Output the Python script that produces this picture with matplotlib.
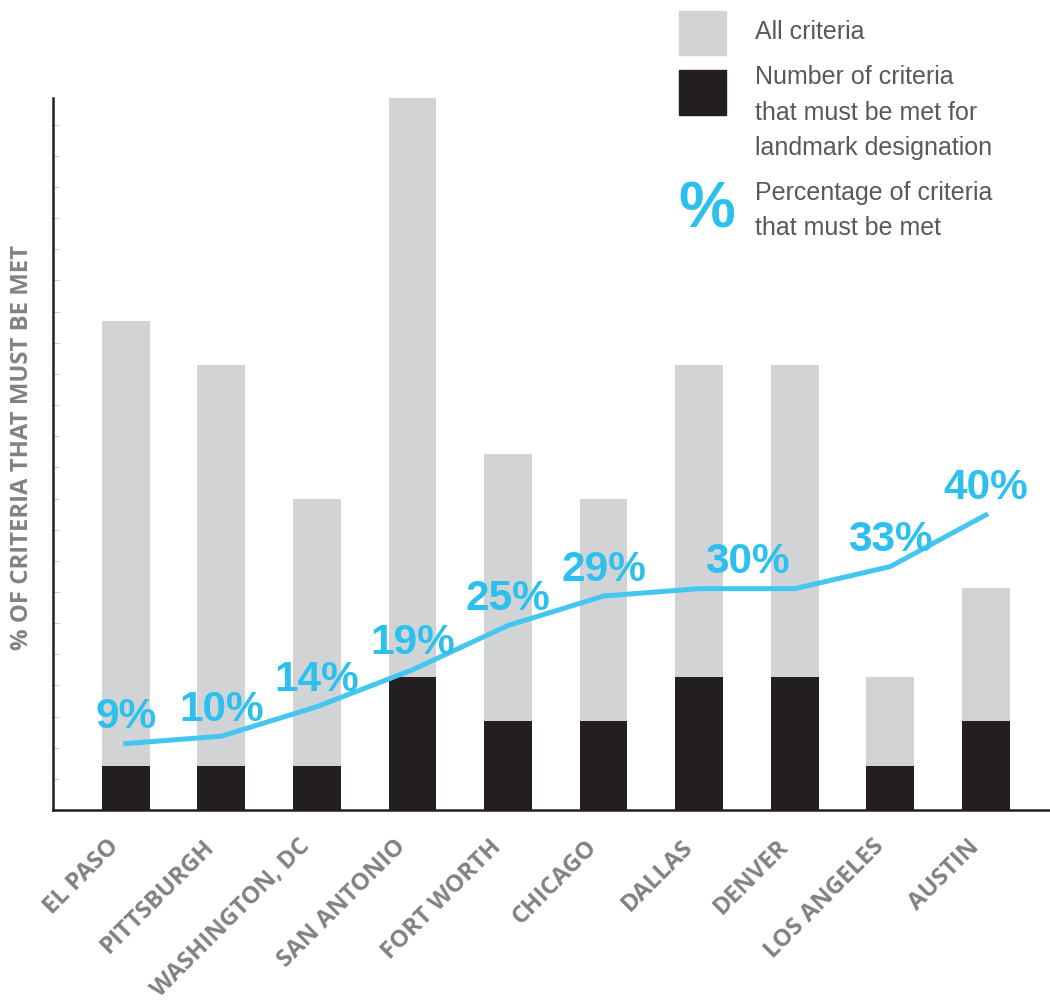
import matplotlib
matplotlib.use("Agg")
import matplotlib.pyplot as plt
import matplotlib.transforms as mtransforms
from matplotlib.patches import Rectangle
from matplotlib.ticker import MultipleLocator
import numpy as np

cities = ["EL PASO", "PITTSBURGH", "WASHINGTON, DC", "SAN ANTONIO", "FORT WORTH",
          "CHICAGO", "DALLAS", "DENVER", "LOS ANGELES", "AUSTIN"]
all_criteria = [11, 10, 7, 16, 8, 7, 10, 10, 3, 5]
must_meet = [1, 1, 1, 3, 2, 2, 3, 3, 1, 2]
pct = [9, 10, 14, 19, 25, 29, 30, 30, 33, 40]

GRAY_BAR = "#d1d3d4"
BLACK_BAR = "#231f20"
CYAN = "#2cc0ef"
CYAN_LINE = "#45c6f1"
TEXT_GRAY = "#808285"
LEG_GRAY = "#58595b"

fig = plt.figure(figsize=(10.5, 10.07), dpi=100)
W, H = 1050, 1007
ax = fig.add_axes([53 / W, (H - 810) / H, (W - 53) / W, (810 - 98) / H])

x = np.arange(len(cities))
ax.bar(x, all_criteria, width=0.5, color=GRAY_BAR, zorder=1)
ax.bar(x, must_meet, width=0.5, color=BLACK_BAR, zorder=2)
ax.set_xlim(-0.76, 9.67)
ax.set_ylim(0, 16)

for s in ["top", "right"]:
    ax.spines[s].set_visible(False)
for s in ["left", "bottom"]:
    ax.spines[s].set_color(BLACK_BAR)
    ax.spines[s].set_linewidth(1.8)

ax.yaxis.set_major_locator(MultipleLocator(0.7))
ax.tick_params(axis="y", direction="in", length=4, width=0.6, color="#bcbec0", labelleft=False)
ax.tick_params(axis="x", length=0, pad=24)
ax.set_xticks(x)
ax.set_xticklabels(cities, rotation=45, ha="right", va="center", rotation_mode="anchor",
                   fontfamily="Open Sans", fontweight="bold", fontsize=17.3, color=TEXT_GRAY)
offset = mtransforms.ScaledTranslation(-10 / 100, 0, fig.dpi_scale_trans)
for lab in ax.get_xticklabels():
    lab.set_transform(lab.get_transform() + offset)

ax2 = ax.twinx()
ax2.set_ylim(0, 96.5)
ax2.axis("off")
ax2.plot(x, pct, color=CYAN_LINE, lw=3.6, solid_joinstyle="miter", zorder=5)

# labels (duplicate values share one label at their mean position)
seen = {}
for xi, p in zip(x, pct):
    seen.setdefault(p, []).append(xi)
for p, xs in seen.items():
    ax2.annotate(f"{p}%", (np.mean(xs), p), xytext=(0, 19), textcoords="offset points",
                 ha="center", va="center", fontsize=30.5, fontweight="bold",
                 fontfamily="Liberation Sans", color=CYAN, zorder=6)

fig.text(22 / W, 1 - 447 / H, "% OF CRITERIA THAT MUST BE MET", rotation=90,
         ha="center", va="center", fontfamily="Open Sans", fontweight="bold",
         fontsize=17.2, color=TEXT_GRAY)

# legend
fig.add_artist(Rectangle((679 / W, 1 - 55 / H), 47 / W, 44 / H, transform=fig.transFigure,
                         color=GRAY_BAR))
fig.add_artist(Rectangle((679 / W, 1 - 115 / H), 47 / W, 45 / H, transform=fig.transFigure,
                         color=BLACK_BAR))
fig.text(707 / W, 1 - 210 / H, "%", ha="center", va="center", fontsize=46,
         fontweight="bold", fontfamily="Liberation Sans", color=CYAN)
leg_lines = [("All criteria", 32), ("Number of criteria", 77), ("that must be met for", 113),
             ("landmark designation", 148), ("Percentage of criteria", 193),
             ("that must be met", 228)]
for t, yy in leg_lines:
    fig.text(755 / W, 1 - yy / H, t, ha="left", va="center", fontsize=18,
             fontfamily="Liberation Sans", color=LEG_GRAY)

fig.savefig("out.png", dpi=100)
